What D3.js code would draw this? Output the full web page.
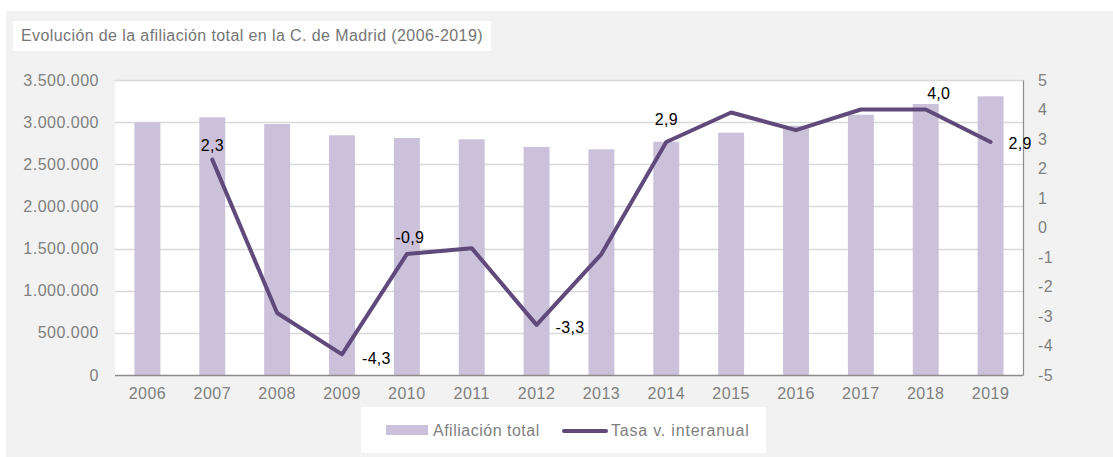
<!DOCTYPE html>
<html>
<head>
<meta charset="utf-8">
<script src="https://cdn.jsdelivr.net/npm/d3@7"></script>
<style>
    html, body { margin: 0; padding: 0; background: #ffffff; }
    svg { display: block; font-family: "Liberation Sans", Arial, sans-serif; }
</style>
</head>
<body>
<div id="chart"></div>
<script>
// --- Data ---
const years = ['2006', '2007', '2008', '2009', '2010', '2011', '2012', '2013', '2014', '2015', '2016', '2017', '2018', '2019'];
const afiliacion = [2998000, 3057000, 2978000, 2844000, 2812000, 2796000, 2705000, 2678000, 2768000, 2875000, 2958000, 3088000, 3215000, 3306000];
const tasa = [null, 2.3, -2.9, -4.3, -0.9, -0.7, -3.3, -0.9, 2.9, 3.9, 3.3, 4.0, 4.0, 2.9];
const leftTicks = [0, 500000, 1000000, 1500000, 2000000, 2500000, 3000000, 3500000];
const rightTicks = [-5, -4, -3, -2, -1, 0, 1, 2, 3, 4, 5];
const labelledYears = ['2007', '2009', '2010', '2012', '2014', '2018', '2019'];

// --- Config ---
const colors = {
    bar: '#ccc1da',
    line: '#604a7b',
    text: '#7f7f7f',
    grid: '#d9d9d9',
    axis: '#8c8c8c',
    bg: '#f2f2f2'
};

const W = 1113, H = 457;
const plot = { left: 115, right: 1023, top: 80, bottom: 375 };

const svg = d3.select('#chart').append('svg')
    .attr('width', W)
    .attr('height', H);

// background panel
svg.append('rect')
    .attr('x', 6).attr('y', 11)
    .attr('width', W - 6).attr('height', H - 11)
    .attr('fill', colors.bg);

// title box
svg.append('rect')
    .attr('x', 13).attr('y', 21)
    .attr('width', 478).attr('height', 30)
    .attr('fill', '#fff');

svg.append('text')
    .attr('x', 21).attr('y', 41)
    .attr('fill', '#767676')
    .style('font-size', '16px')
    .style('letter-spacing', '0.4px')
    .text('Evolución de la afiliación total en la C. de Madrid (2006-2019)');

// plot area
svg.append('rect')
    .attr('x', plot.left).attr('y', plot.top)
    .attr('width', plot.right - plot.left).attr('height', plot.bottom - plot.top)
    .attr('fill', '#fff');

// --- Scales ---
const x = d3.scaleBand()
    .domain(years)
    .range([plot.left, plot.right])
    .paddingInner(0.6)
    .paddingOuter(0.3);

const xc = d => x(d) + x.bandwidth() / 2;

const yLeft = d3.scaleLinear()
    .domain([0, 3500000])
    .range([plot.bottom, plot.top]);

const yRight = d3.scaleLinear()
    .domain([-5, 5])
    .range([plot.bottom, plot.top]);

const fmtThousands = d3.formatLocale({ decimal: ',', thousands: '.', grouping: [3], currency: ['', '€'], minus: '-' }).format(',d');
const fmtPct = d3.formatLocale({ decimal: ',', thousands: '.', grouping: [3], currency: ['', '€'], minus: '-' }).format('.1f');

// gridlines
svg.append('g')
    .selectAll('line')
    .data(leftTicks.slice(1))
    .join('line')
    .attr('x1', plot.left).attr('x2', plot.right)
    .attr('y1', d => Math.round(yLeft(d)) + 0.5)
    .attr('y2', d => Math.round(yLeft(d)) + 0.5)
    .attr('stroke', colors.grid)
    .attr('stroke-width', 1.3);

// --- Bars ---
svg.append('g')
    .selectAll('rect')
    .data(years)
    .join('rect')
    .attr('x', d => x(d))
    .attr('y', (d, i) => yLeft(afiliacion[i]))
    .attr('width', x.bandwidth())
    .attr('height', (d, i) => plot.bottom - yLeft(afiliacion[i]))
    .attr('fill', colors.bar);

// --- Axes ---
const axisLeft = svg.append('g')
    .attr('transform', `translate(${plot.left},0)`)
    .call(d3.axisLeft(yLeft).tickValues(leftTicks).tickFormat(fmtThousands).tickSize(0).tickPadding(16));
axisLeft.select('.domain').remove();

const axisRight = svg.append('g')
    .attr('transform', `translate(${plot.right},0)`)
    .call(d3.axisRight(yRight).tickValues(rightTicks).tickFormat(d => String(d)).tickSize(0).tickPadding(15));
axisRight.select('.domain')
    .attr('stroke', colors.axis)
    .attr('stroke-width', 1.2);

const axisBottom = svg.append('g')
    .attr('transform', `translate(0,${plot.bottom})`)
    .call(d3.axisBottom(x).tickSize(0).tickPadding(13));
axisBottom.select('.domain')
    .attr('d', `M${plot.left},0.5H${plot.right}`)
    .attr('stroke', colors.axis)
    .attr('stroke-width', 1.5);

svg.selectAll('.tick text')
    .attr('fill', colors.text)
    .style('font-size', '16px')
    .style('letter-spacing', '0.5px')
    .style('font-family', '"Liberation Sans", Arial, sans-serif');

// --- Line ---
const lineData = years.map((y, i) => ({ year: y, v: tasa[i] })).filter(d => d.v !== null);

svg.append('path')
    .datum(lineData)
    .attr('fill', 'none')
    .attr('stroke', colors.line)
    .attr('stroke-width', 4)
    .attr('stroke-linejoin', 'round')
    .attr('stroke-linecap', 'round')
    .attr('d', d3.line().x(d => xc(d.year)).y(d => yRight(d.v)));

// data labels: above or to the right of the point
const placement = {
    '2007': { dx: 0, dy: -9, anchor: 'middle' },
    '2009': { dx: 20, dy: 10, anchor: 'start' },
    '2010': { dx: 3, dy: -11, anchor: 'middle' },
    '2012': { dx: 19, dy: 8, anchor: 'start' },
    '2014': { dx: 0, dy: -17, anchor: 'middle' },
    '2018': { dx: 13, dy: -11, anchor: 'middle' },
    '2019': { dx: 18, dy: 7, anchor: 'start' }
};

svg.append('g')
    .selectAll('text')
    .data(lineData.filter(d => labelledYears.includes(d.year)))
    .join('text')
    .attr('x', d => xc(d.year) + placement[d.year].dx)
    .attr('y', d => yRight(d.v) + placement[d.year].dy)
    .attr('text-anchor', d => placement[d.year].anchor)
    .attr('fill', '#000')
    .style('font-size', '16px')
    .style('letter-spacing', '0.3px')
    .text(d => fmtPct(d.v));

// --- Legend ---
const legend = svg.append('g');
legend.append('rect')
    .attr('x', 361).attr('y', 407)
    .attr('width', 405).attr('height', 46)
    .attr('fill', '#fff');

legend.append('rect')
    .attr('x', 386).attr('y', 425)
    .attr('width', 42).attr('height', 10)
    .attr('fill', colors.bar);

legend.append('text')
    .attr('x', 433).attr('y', 436)
    .attr('fill', colors.text)
    .style('font-size', '16px')
    .style('letter-spacing', '0.5px')
    .text('Afiliación total');

legend.append('line')
    .attr('x1', 564).attr('x2', 606)
    .attr('y1', 431).attr('y2', 431)
    .attr('stroke', colors.line)
    .attr('stroke-width', 4)
    .attr('stroke-linecap', 'round');

legend.append('text')
    .attr('x', 611).attr('y', 436)
    .attr('fill', colors.text)
    .style('font-size', '16px')
    .style('letter-spacing', '0.8px')
    .text('Tasa v. interanual');
</script>
</body>
</html>
